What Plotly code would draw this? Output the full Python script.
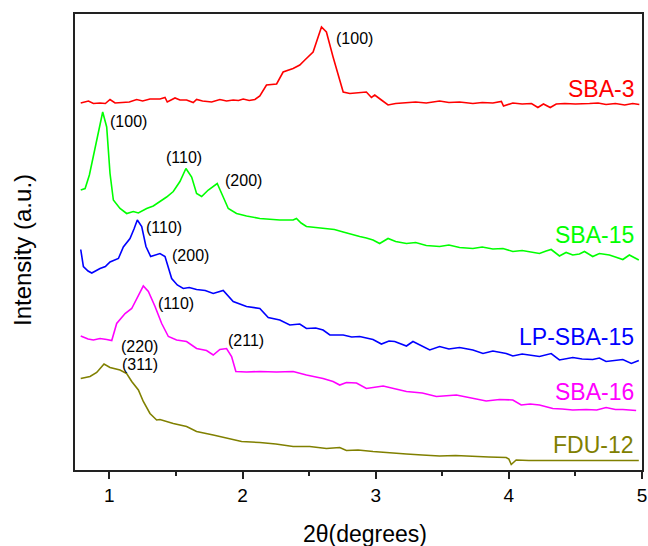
import plotly.graph_objects as go

# ---- data (2theta in degrees, intensity in arbitrary stacked units) ----
sba3_x = [0.785, 0.843, 0.88, 0.93, 0.97, 1.005, 1.043, 1.10, 1.15, 1.205,
          1.25, 1.305, 1.38, 1.418, 1.435, 1.493, 1.53, 1.58, 1.63, 1.655,
          1.70, 1.768, 1.80, 1.83, 1.88, 1.93, 1.97, 2.005, 2.05, 2.093,
          2.13, 2.18, 2.256, 2.305, 2.38, 2.43, 2.468, 2.53, 2.593, 2.63,
          2.68, 2.718, 2.756, 2.806, 2.87, 2.93, 2.968, 2.993, 3.043, 3.093,
          3.15, 3.231, 3.30, 3.38, 3.48, 3.55, 3.63, 3.73, 3.80, 3.88,
          3.944, 3.96, 4.03, 4.10, 4.17, 4.218, 4.26, 4.311, 4.356, 4.42,
          4.50, 4.606, 4.67, 4.73, 4.80, 4.87, 4.93, 4.98]
sba3_y = [367, 369, 366.5, 367, 366.5, 370.5, 367, 367.5, 368, 370.5,
          369, 371, 371, 372.5, 368, 372, 370, 370, 367.5, 370.5,
          369, 368, 369.5, 370.5, 369, 370, 369.5, 371, 369.5, 370.5,
          374, 385, 386, 398, 401.5, 405, 410, 418, 443, 438,
          413, 396.5, 378, 376.5, 377.5, 378, 372.5, 375, 370, 365,
          366.5, 367.5, 368, 367, 369, 367.5, 368, 366.5, 367.5, 367,
          368.5, 364, 367, 366, 366.5, 362.5, 366, 362.5, 366, 366.5,
          366, 366.5, 367, 365.5, 366.5, 365, 366.5, 365.5]

sba15_x = [0.785, 0.818, 0.85, 0.88, 0.918, 0.95, 0.98, 1.005, 1.03, 1.08,
           1.13, 1.18, 1.218, 1.28, 1.33, 1.38, 1.43, 1.48, 1.53, 1.575,
           1.618, 1.655, 1.693, 1.743, 1.78, 1.81, 1.855, 1.893, 1.955, 2.03,
           2.13, 2.2, 2.28, 2.38, 2.405, 2.44, 2.48, 2.55, 2.63, 2.69,
           2.756, 2.82, 2.88, 2.93, 2.98, 3.03, 3.093, 3.15, 3.231, 3.30,
           3.38, 3.48, 3.55, 3.63, 3.73, 3.80, 3.88, 3.956, 4.03, 4.10,
           4.17, 4.23, 4.28, 4.318, 4.38, 4.43, 4.48, 4.53, 4.568, 4.63,
           4.68, 4.755, 4.80, 4.856, 4.905, 4.976]
sba15_y = [280, 281.5, 295, 313, 336.5, 358, 343, 296.5, 270, 261.5,
           256.5, 258.5, 257, 261.5, 264, 268.5, 273, 278.5, 288.5, 301.5,
           293, 276.5, 273.5, 280, 284, 286.5, 273, 261.5, 256.5, 254,
           251.5, 250.5, 250, 250, 251.5, 247, 243.5, 242.5, 241.5, 240.5,
           238, 235.5, 233.5, 232, 230, 226.5, 231.5, 228.5, 226.5, 227.5,
           224.5, 223.5, 225, 222.5, 221.5, 223, 221, 221.5, 218.5, 219.5,
           218, 216.5, 219, 220.5, 214, 217.5, 215, 216, 218.5, 213.5,
           216.5, 215, 213, 210.5, 215, 210]

lpsba15_x = [0.785, 0.805, 0.84, 0.868, 0.93, 0.97, 1.005, 1.068, 1.105, 1.155,
             1.185, 1.21, 1.243, 1.275, 1.31, 1.35, 1.38, 1.418, 1.44, 1.468,
             1.51, 1.555, 1.60, 1.655, 1.72, 1.78, 1.855, 1.89, 1.93, 2.03,
             2.13, 2.193, 2.28, 2.355, 2.43, 2.48, 2.55, 2.605, 2.656, 2.756,
             2.82, 2.88, 2.98, 3.043, 3.10, 3.143, 3.231, 3.28, 3.34, 3.406,
             3.48, 3.55, 3.63, 3.73, 3.806, 3.88, 3.98, 4.03, 4.10, 4.17,
             4.23, 4.318, 4.38, 4.48, 4.55, 4.63, 4.68, 4.73, 4.80, 4.856,
             4.92, 4.976]
lpsba15_y = [220.5, 203.5, 199, 197, 201.5, 203.5, 208, 211.5, 223, 231.5,
             241, 250, 243.5, 223.5, 213.5, 215, 216.5, 213.5, 203, 191.5,
             185, 181.5, 182.5, 180.5, 179.5, 176.5, 179.5, 174, 168.5, 163.5,
             161.5, 152.5, 150, 145, 146, 141.5, 142, 140, 135, 135,
             133, 133.5, 130.5, 126, 129, 128.5, 124, 128.5, 124.5, 120,
             123.5, 121, 122.5, 120, 116.5, 119, 116.5, 114, 116, 114.5,
             113.5, 116.5, 110, 112.5, 111, 110.5, 112, 108.5, 110, 110.5,
             106.5, 109.5]

sba16_x = [0.785, 0.84, 0.88, 0.93, 0.98, 1.018, 1.055, 1.118, 1.168, 1.218,
           1.255, 1.293, 1.343, 1.393, 1.443, 1.505, 1.58, 1.655, 1.73, 1.78,
           1.83, 1.88, 1.918, 1.95, 2.03, 2.13, 2.255, 2.38, 2.48, 2.605,
           2.68, 2.73, 2.78, 2.856, 2.93, 3.056, 3.15, 3.231, 3.35, 3.456,
           3.606, 3.73, 3.83, 3.93, 4.03, 4.093, 4.16, 4.23, 4.33, 4.40,
           4.48, 4.58, 4.66, 4.73, 4.80, 4.856, 4.956]
sba16_y = [134, 131, 130, 131.5, 130.5, 129.5, 146.5, 156.5, 161.5, 175,
           184, 178.5, 163.5, 146.5, 133.5, 130, 128.5, 121.5, 119.5, 115,
           120.5, 121.5, 113.5, 98.5, 98, 98.5, 98, 98.5, 95, 91.5,
           88.5, 85, 87.5, 87, 81.5, 84, 81, 78.5, 77, 73.5,
           75, 71.5, 69, 70.5, 70, 65, 66, 65, 61.5, 61,
           60, 60.5, 60, 62.5, 60.5, 60.5, 59.5]

fdu12_x = [0.785, 0.855, 0.905, 0.96, 1.005, 1.08, 1.13, 1.168, 1.218, 1.255,
           1.305, 1.355, 1.38, 1.43, 1.48, 1.58, 1.655, 1.78, 1.905, 1.993,
           2.13, 2.25, 2.38, 2.505, 2.63, 2.73, 2.78, 2.868, 2.98, 3.10,
           3.231, 3.35, 3.48, 3.6, 3.73, 3.85, 3.98, 4.0, 4.018, 4.055,
           4.15, 4.23, 4.35, 4.48, 4.6, 4.73, 4.85, 4.976]
fdu12_y = [91.5, 93.5, 97.5, 106, 102.5, 100, 96.5, 88.5, 80, 68.5,
           56.5, 50, 50.5, 48.5, 46.5, 43.5, 38.5, 35, 31.5, 28.5,
           27.5, 26, 23.5, 23.5, 21.5, 22.5, 19.5, 20, 18.5, 17,
           16, 15, 14, 14.5, 13.5, 13, 12.5, 11, 5.5, 10,
           9.5, 9.5, 9, 9.5, 9, 9, 9.5, 9.5]

series_names = ["SBA-3", "SBA-15", "LP-SBA-15", "SBA-16", "FDU-12"]
series_colors = ["#ff0000", "#00ff00", "#0000ff", "#ff00ff", "#808000"]
series_label_y = [381, 235, 133, 78, 25]

peak_texts = ["(100)", "(100)", "(110)", "(200)", "(110)", "(200)",
              "(110)", "(211)", "(220)", "(311)"]
peak_x = [2.843, 1.14, 1.558, 2.008, 1.414, 1.613, 1.503, 2.024, 1.228, 1.23]
peak_y = [432, 349, 313, 290, 243, 214.5, 166.5, 130, 124, 106]

xs = [sba3_x, sba15_x, lpsba15_x, sba16_x, fdu12_x]
ys = [sba3_y, sba15_y, lpsba15_y, sba16_y, fdu12_y]

FONT = "Liberation Sans, Arial, sans-serif"

fig = go.Figure()
for name, col, x, y in zip(series_names, series_colors, xs, ys):
    fig.add_trace(go.Scatter(x=x, y=y, mode="lines", name=name,
                             line=dict(color=col, width=1.6), showlegend=False))

annotations = []
for name, col, ly in zip(series_names, series_colors, series_label_y):
    annotations.append(dict(x=4.955, y=ly, xref="x", yref="y", text=name,
                            showarrow=False, xanchor="right", yanchor="middle",
                            font=dict(family=FONT, size=23, color=col)))
for t, px, py in zip(peak_texts, peak_x, peak_y):
    annotations.append(dict(x=px, y=py, xref="x", yref="y", text=t,
                            showarrow=False, xanchor="center", yanchor="middle",
                            font=dict(family=FONT, size=16, color="black")))
annotations.append(dict(x=-0.093, y=0.483, xref="paper", yref="paper",
                        text="Intensity (a.u.)", textangle=-90, showarrow=False,
                        xanchor="center", yanchor="middle",
                        font=dict(family=FONT, size=24, color="black")))
annotations.append(dict(x=0.512, y=-0.14, xref="paper", yref="paper",
                        text="2θ(degrees)", showarrow=False,
                        xanchor="center", yanchor="middle",
                        font=dict(family=FONT, size=23, color="black")))

fig.update_layout(
    width=648, height=546,
    margin=dict(l=75, r=6, t=14, b=76, autoexpand=False),
    paper_bgcolor="white", plot_bgcolor="white",
    annotations=annotations,
    xaxis=dict(range=[0.742, 5.0], tickvals=[1, 2, 3, 4, 5], automargin=False,
               ticks="outside", ticklen=7, tickwidth=1.5, tickcolor="#222",
               minor=dict(ticks="outside", ticklen=4, tickwidth=1.5,
                          tickcolor="#222", tickvals=[1.5, 2.5, 3.5, 4.5]),
               showline=True, linecolor="#222", linewidth=1.6, mirror=True,
               showgrid=False, zeroline=False,
               tickfont=dict(family=FONT, size=19, color="black")),
    yaxis=dict(range=[0, 456], showticklabels=False, ticks="", automargin=False,
               showline=True, linecolor="#222", linewidth=1.6, mirror=True,
               showgrid=False, zeroline=False),
)

fig.write_html("out.html")
